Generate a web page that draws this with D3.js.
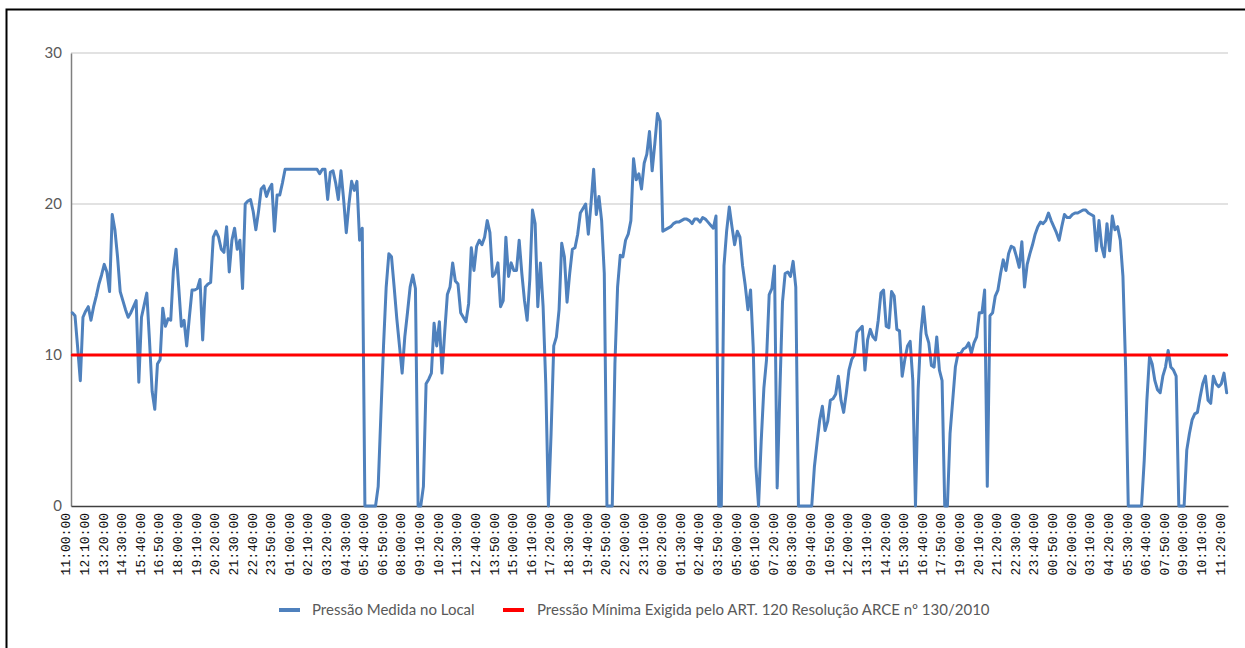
<!DOCTYPE html>
<html><head><meta charset="utf-8">
<script src="https://cdn.jsdelivr.net/npm/d3@7"></script>
<style>body{margin:0;background:#fff} svg{display:block}</style>
</head><body><svg id="c" width="1245" height="648"></svg>
<script>
const tickLabels = ["11:00:00","12:10:00","13:20:00","14:30:00","15:40:00","16:50:00","18:00:00","19:10:00","20:20:00","21:30:00","22:40:00","23:50:00","01:00:00","02:10:00","03:20:00","04:30:00","05:40:00","06:50:00","08:00:00","09:10:00","10:20:00","11:30:00","12:40:00","13:50:00","15:00:00","16:10:00","17:20:00","18:30:00","19:40:00","20:50:00","22:00:00","23:10:00","00:20:00","01:30:00","02:40:00","03:50:00","05:00:00","06:10:00","07:20:00","08:30:00","09:40:00","10:50:00","12:00:00","13:10:00","14:20:00","15:30:00","16:40:00","17:50:00","19:00:00","20:10:00","21:20:00","22:30:00","23:40:00","00:50:00","02:00:00","03:10:00","04:20:00","05:30:00","06:40:00","07:50:00","09:00:00","10:10:00","11:20:00"];
const tickEvery = 7; // one label every 7 readings (10-minute readings)

const pressure = [
12.8,12.6,10.5,8.3,12.5,12.9,13.2,12.3,13.2,13.9,
14.7,15.3,16.0,15.5,14.2,19.3,18.3,16.5,14.2,13.6,
13.0,12.5,12.8,13.2,13.6,8.2,12.5,13.3,14.1,11.0,
7.6,6.4,9.4,9.7,13.1,11.9,12.4,12.3,15.6,17.0,
14.5,11.9,12.3,10.6,12.5,14.3,14.3,14.4,15.0,11.0,
14.5,14.7,14.8,17.8,18.2,17.8,17.0,16.8,18.5,15.5,
17.6,18.4,17.0,17.6,14.4,20.0,20.2,20.3,19.5,18.3,
19.5,21.0,21.2,20.5,21.0,21.3,18.2,20.6,20.6,21.4,
22.3,22.3,22.3,22.3,22.3,22.3,22.3,22.3,22.3,22.3,
22.3,22.3,22.3,22.0,22.3,22.3,20.3,22.1,22.2,21.4,
20.3,22.2,20.3,18.1,20.0,21.5,20.9,21.5,17.6,18.4,
0,0,0,0,0,1.3,6.0,10.6,14.5,16.7,
16.5,14.5,12.4,10.6,8.8,11.2,12.8,14.5,15.3,14.4,
0,0,1.3,8.1,8.4,8.8,12.1,10.6,12.2,8.8,
11.5,14.0,14.5,16.1,14.9,14.7,12.8,12.5,12.2,13.4,
17.1,15.6,17.2,17.6,17.3,17.8,18.9,18.1,15.2,15.4,
16.1,13.2,13.6,17.8,15.2,16.1,15.6,15.6,17.6,15.4,
13.6,12.3,15.0,19.6,18.7,13.2,16.1,13.2,8.1,0,
4.8,10.6,11.2,13.0,17.4,16.5,13.5,15.4,17.0,17.1,
18.0,19.4,19.7,20.0,18.0,20.0,22.3,19.3,20.5,18.9,
15.4,0,0,0,9.4,14.5,16.6,16.5,17.6,18.0,
18.9,23.0,21.6,22.0,21.0,22.7,23.3,24.8,22.2,24.0,
26.0,25.5,18.2,18.3,18.4,18.5,18.7,18.8,18.8,18.9,
19.0,19.0,18.9,18.7,19.0,19.0,18.8,19.1,19.0,18.8,
18.6,18.4,19.2,0,0,15.9,18.2,19.8,18.5,17.3,
18.2,17.8,15.9,14.6,13.0,14.3,10.5,2.6,0,4.3,
7.8,9.7,14.0,14.4,15.9,1.2,7.5,13.5,15.4,15.5,
15.2,16.2,14.5,0,0,0,0,0,0,2.6,
4.2,5.7,6.6,5.0,5.6,7.0,7.1,7.4,8.6,7.0,
6.2,7.5,9.0,9.7,10.0,11.5,11.7,11.9,9.0,11.0,
11.7,11.2,11.0,12.3,14.1,14.3,11.9,11.8,14.2,13.9,
11.7,11.6,8.6,9.7,10.6,10.9,8.3,0,7.7,11.4,
13.2,11.4,10.8,9.3,9.2,11.2,9.0,8.3,0,0,
4.8,7.0,9.2,10.1,10.1,10.4,10.5,10.8,10.1,10.8,
11.2,12.8,12.8,14.3,1.3,12.6,12.8,13.9,14.3,15.4,
16.3,15.6,16.7,17.2,17.1,16.5,15.8,17.5,14.5,16.0,
16.7,17.3,18.0,18.5,18.8,18.7,18.9,19.4,18.9,18.5,
18.1,17.6,18.5,19.3,19.1,19.1,19.3,19.4,19.4,19.5,
19.6,19.6,19.4,19.3,19.2,16.9,18.9,17.2,16.5,18.7,
16.9,19.2,18.3,18.5,17.6,15.2,9.2,0,0,0,
0,0,0,3.0,7.0,9.9,9.4,8.3,7.7,7.5,
8.6,9.2,10.3,9.2,9.0,8.6,0,0,0,3.7,
4.8,5.7,6.1,6.2,7.2,8.1,8.6,7.0,6.8,8.6,
8.1,7.9,8.1,8.8,7.5
];
const minPressure = 10; // required minimum, ART. 120
const yTicks = [0, 10, 20, 30];
const seriesNames = ["Pressão Medida no Local", "Pressão Mínima Exigida pelo ART. 120 Resolução ARCE nº 130/2010"];
const seriesColors = ["#4F81BD", "#FF0000"];

const categories = d3.range(pressure.length);
const minSeries = categories.map(() => minPressure);

const svg = d3.select("#c");
const L = 71, R = 1228, T = 53, B = 506;

// outer chart frame
svg.append("rect").attr("x", 6.5).attr("y", 9.5).attr("width", 1300).attr("height", 700)
  .attr("fill", "none").attr("stroke", "#000").attr("stroke-width", 2);

const x = d3.scaleBand().domain(categories).range([L, R]).padding(0);
const cx = i => x(i) + x.bandwidth() / 2;
const y = d3.scaleLinear().domain([0, 30]).range([B, T]);

// gridlines
svg.append("g").selectAll("line").data(yTicks.filter(t => t > 0)).join("line")
  .attr("x1", L).attr("x2", R).attr("y1", d => y(d)).attr("y2", d => y(d))
  .attr("stroke", "#d9d9d9").attr("stroke-width", 1.5);

// y axis
const yAxis = svg.append("g").attr("transform", `translate(${L},0)`)
  .call(d3.axisLeft(y).tickValues(yTicks).tickSize(0).tickPadding(9).tickFormat(d3.format("d")));
yAxis.select(".domain").attr("stroke", "#7f7f7f").attr("stroke-width", 1.5);
yAxis.selectAll("text").attr("font-family", "Lato, 'Open Sans', sans-serif").attr("font-size", 15).attr("fill", "#595959");

// x axis
const xAxis = svg.append("g").attr("transform", `translate(0,${B})`)
  .call(d3.axisBottom(x).tickValues(categories.filter(i => i % tickEvery === 0))
    .tickSize(0).tickFormat(i => tickLabels[i / tickEvery]));
xAxis.select(".domain").attr("stroke", "#404040").attr("stroke-width", 1.5);
xAxis.selectAll("text")
  .attr("transform", "rotate(-90)").attr("x", -7).attr("y", -2).attr("dy", 0)
  .attr("text-anchor", "end")
  .attr("font-family", "'Liberation Mono', monospace").attr("font-size", 13).attr("fill", "#111");

// series lines
const line = d3.line().x((d, i) => cx(i)).y(d => y(d));
svg.append("path").datum(pressure).attr("d", line)
  .attr("fill", "none").attr("stroke", seriesColors[0]).attr("stroke-width", 3)
  .attr("stroke-linejoin", "round").attr("stroke-linecap", "round");
svg.append("path").datum(minSeries).attr("d", line)
  .attr("fill", "none").attr("stroke", seriesColors[1]).attr("stroke-width", 3.2)
  .attr("stroke-linecap", "round");

// legend
const legendPos = [{sx: 279, tx: 312}, {sx: 503, tx: 537}];
const lg = svg.append("g");
seriesNames.forEach((name, k) => {
  lg.append("line").attr("x1", legendPos[k].sx).attr("x2", legendPos[k].sx + 21)
    .attr("y1", 610).attr("y2", 610).attr("stroke", seriesColors[k]).attr("stroke-width", 4);
  lg.append("text").attr("x", legendPos[k].tx).attr("y", 614.5).text(name)
    .attr("font-family", "Lato, 'Open Sans', sans-serif").attr("font-size", 15).attr("fill", "#595959");
});
</script>
</body></html>
